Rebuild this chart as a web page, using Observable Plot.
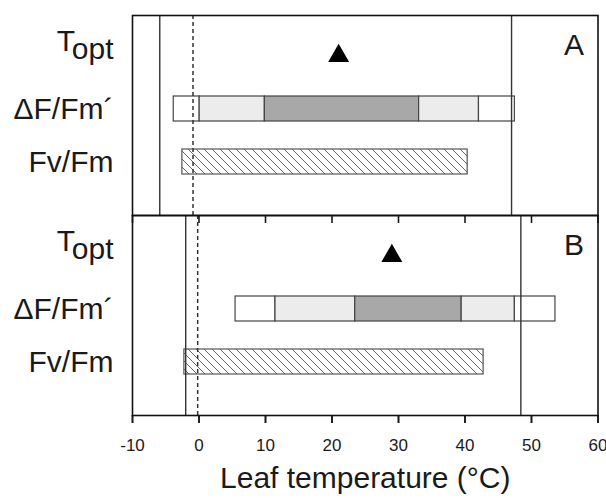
<!DOCTYPE html>
<html><head><meta charset="utf-8">
<script src="https://cdn.jsdelivr.net/npm/d3@7"></script>
<script src="https://cdn.jsdelivr.net/npm/@observablehq/plot@0.6"></script>
<style>body{margin:0;background:#fff;}</style>
</head><body><div id="chart"></div>
<script>
// ---- data ----
const panels = ["A", "B"];
const rows = ["Topt", "ΔF/Fm´", "Fv/Fm"];
const toptValues = [21.0, 29.0];
const dfBoundsA = [-3.8, 0.1, 9.9, 33.1, 42.1, 47.5];
const dfBoundsB = [5.5, 11.5, 23.5, 39.5, 47.5, 53.6];
const dfShades = ["white", "light", "dark", "light", "white"];
const fvStart = [-2.5, -2.2];
const fvEnd = [40.4, 42.8];
const solidLinesA = [-5.9, 47.0];
const solidLinesB = [-2.0, 48.4];
const dashedLines = [-0.9, -0.2];
const xTicks = [-10, 0, 10, 20, 30, 40, 50, 60];
const xLabel = "Leaf temperature (°C)";

// ---- tables built from the arrays ----
const shadeColor = {white: "#ffffff", light: "#ececec", dark: "#a8a8a8"};
const dfSegments = [];
[dfBoundsA, dfBoundsB].forEach((b, p) => {
  for (let i = 0; i < b.length - 1; i++)
    dfSegments.push({panel: panels[p], row: rows[1], x1: b[i], x2: b[i + 1], shade: dfShades[i]});
});
const topt = panels.map((p, i) => ({panel: p, row: rows[0], x: toptValues[i]}));
const fv = panels.map((p, i) => ({panel: p, row: rows[2], x1: fvStart[i], x2: fvEnd[i]}));
const solids = [...solidLinesA.map(x => ({panel: "A", x})), ...solidLinesB.map(x => ({panel: "B", x}))];
const dashes = panels.map((p, i) => ({panel: p, x: dashedLines[i]}));
const letters = panels.map(p => ({panel: p, text: p}));

const font = "'Liberation Sans', Arial, Helvetica, sans-serif";
const chart = Plot.plot({
  width: 606, height: 498,
  marginTop: 14, marginBottom: 83, marginLeft: 132, marginRight: 8.5,
  style: {fontFamily: font, color: "#1a1a1a", background: "#fff"},
  x: {domain: [-10, 60]},
  y: {domain: rows, paddingInner: 0.537, paddingOuter: 0.5, insetBottom: 13.5},
  fy: {domain: panels, padding: 0, axis: null},
  marks: [
    Plot.barX(dfSegments, {x1: "x1", x2: "x2", y: "row", fy: "panel", fill: d => shadeColor[d.shade], stroke: "#444", strokeWidth: 1.2}),
    Plot.barX(fv, {x1: "x1", x2: "x2", y: "row", fy: "panel", fill: "url(#hatch)", stroke: "#555", strokeWidth: 1.2}),
    Plot.dot(topt, {x: "x", y: "row", fy: "panel", symbol: "triangle", r: 7.8, fill: "#000", stroke: "none"}),
    Plot.ruleX(solids, {x: "x", fy: "panel", stroke: "#333", strokeWidth: 1.4}),
    Plot.ruleX(dashes, {x: "x", fy: "panel", stroke: "#333", strokeWidth: 1.5, strokeDasharray: "4,3"}),
    Plot.text(letters, {text: "text", fy: "panel", frameAnchor: "top-right", lineAnchor: "top", dx: -14, dy: 18, fontSize: 30}),
    Plot.axisY({tickSize: 0, tickPadding: 19, fontSize: 30, label: null}),
    Plot.axisX({ticks: xTicks, tickSize: 8, tickFormat: () => "", facetAnchor: null, label: null, strokeWidth: 1.6}),
    Plot.axisX({ticks: xTicks, tickSize: 8, tickPadding: 15, fontSize: 17, strokeWidth: 1.6,
      tickFormat: d => String(d), label: xLabel, labelAnchor: "center", labelOffset: 72, labelArrow: "none"}),
    Plot.frame({stroke: "#111", strokeWidth: 1.6})
  ]
});

// hatch pattern for the Fv/Fm bars
const ns = "http://www.w3.org/2000/svg";
const defs = document.createElementNS(ns, "defs");
defs.innerHTML = '<pattern id="hatch" patternUnits="userSpaceOnUse" width="8" height="8">' +
  '<rect width="8" height="8" fill="#fff"/>' +
  '<path d="M0,0 l8,8 M-2,6 l4,4 M6,-2 l4,4" stroke="#666" stroke-width="1"/></pattern>';
chart.insertBefore(defs, chart.firstChild);

// subscript "opt" in Topt (label sits above the row centre, as in the reference)
chart.querySelectorAll("text").forEach(t => {
  if (t.textContent === "Topt" && t.children.length === 0) {
    t.textContent = "";
    const a = document.createElementNS(ns, "tspan");
    a.setAttribute("dy", "-15");
    a.textContent = "T";
    const s = document.createElementNS(ns, "tspan");
    s.setAttribute("dy", "8");
    s.textContent = "opt";
    t.appendChild(a);
    t.appendChild(s);
  }
  if (t.textContent === xLabel) t.style.fontSize = "30px";
});
const lab = chart.querySelector('[aria-label="x-axis label"]');
if (lab) lab.style.fontSize = "30px";

document.getElementById("chart").appendChild(chart);
</script>
</body></html>
